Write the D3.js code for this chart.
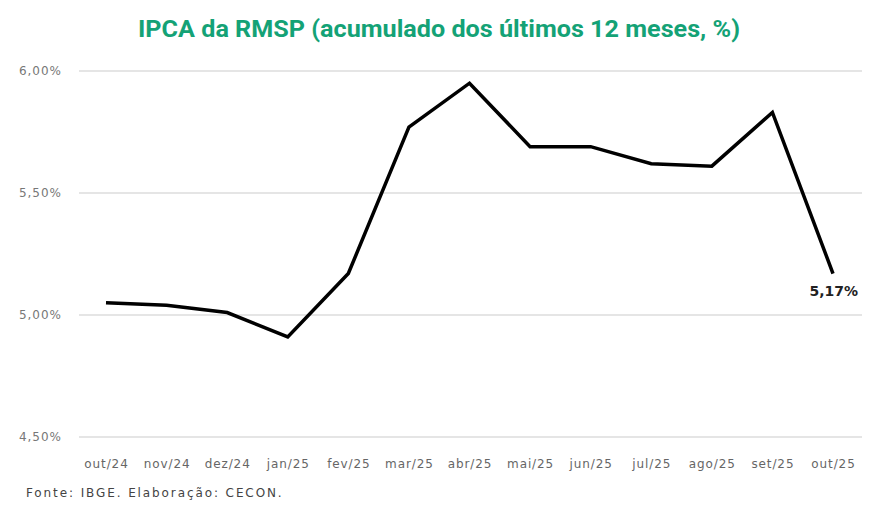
<!DOCTYPE html>
<html>
<head>
<meta charset="utf-8">
<script src="https://cdn.jsdelivr.net/npm/d3@7"></script>
<style>
  body { margin: 0; background: #fff; }
  svg { display: block; }
</style>
</head>
<body>
<div id="chart"></div>
<script>
var months = ['out/24','nov/24','dez/24','jan/25','fev/25','mar/25','abr/25','mai/25','jun/25','jul/25','ago/25','set/25','out/25'];
var ipca = [5.05, 5.04, 5.01, 4.91, 5.17, 5.77, 5.95, 5.69, 5.69, 5.62, 5.61, 5.83, 5.17];
var yTicks = [4.5, 5.0, 5.5, 6.0];
var title = 'IPCA da RMSP (acumulado dos últimos 12 meses, %)';
var source = 'Fonte: IBGE. Elaboração: CECON.';

var W = 877, H = 511;
var margin = {top: 71, right: 15, bottom: 74, left: 79};
var labelFont = '"DejaVu Sans", sans-serif';

var svg = d3.select('#chart').append('svg')
    .attr('width', W)
    .attr('height', H);

var x = d3.scalePoint().domain(months).range([106, 833]);
var y = d3.scaleLinear().domain([4.5, 6.0]).range([H - margin.bottom, margin.top]);

var fmt = function(v) { return d3.format('.2f')(v).replace('.', ',') + '%'; };

// gridlines
svg.append('g')
  .selectAll('line')
  .data(yTicks)
  .join('line')
    .attr('x1', margin.left)
    .attr('x2', W - margin.right)
    .attr('y1', function(d) { return y(d); })
    .attr('y2', function(d) { return y(d); })
    .style('stroke', '#dcdcdc')
    .style('stroke-width', '1.5px');

// y labels
svg.append('g')
  .selectAll('text')
  .data(yTicks)
  .join('text')
    .attr('x', 62)
    .attr('y', function(d) { return y(d); })
    .attr('dy', '.35em')
    .attr('text-anchor', 'end')
    .style('font-family', labelFont)
    .style('font-size', '12px')
    .style('letter-spacing', '1px')
    .style('fill', '#777')
    .text(fmt);

// x axis labels
var xAxis = svg.append('g')
  .attr('transform', 'translate(0,' + (H - margin.bottom + 22) + ')')
  .call(d3.axisBottom(x).tickSize(0).tickPadding(0));
xAxis.select('.domain').remove();
xAxis.selectAll('text')
  .style('font-family', labelFont)
  .style('font-size', '12px')
  .style('letter-spacing', '0.9px')
  .style('fill', '#666');

// line
var line = d3.line()
  .x(function(d, i) { return x(months[i]); })
  .y(function(d) { return y(d); });

svg.append('path')
  .datum(ipca)
  .attr('d', line)
  .style('fill', 'none')
  .style('stroke', '#000')
  .style('stroke-width', '3.5px')
  .style('stroke-linejoin', 'miter');

// last value label
var last = ipca.length - 1;
svg.append('text')
  .attr('x', x(months[last]) + 25)
  .attr('y', y(ipca[last]) + 22)
  .attr('text-anchor', 'end')
  .style('font-family', labelFont)
  .style('font-weight', 'bold')
  .style('font-size', '14px')
  .style('fill', '#222')
  .text(fmt(ipca[last]));

// title
svg.append('text')
  .attr('x', 439)
  .attr('y', 37)
  .attr('text-anchor', 'middle')
  .style('font-family', 'Roboto, sans-serif')
  .style('font-weight', 'bold')
  .style('font-size', '23px')
  .style('fill', '#14a276')
  .attr('textLength', 602)
  .attr('lengthAdjust', 'spacingAndGlyphs')
  .text(title);

// source
svg.append('text')
  .attr('x', 26)
  .attr('y', 497)
  .style('font-family', labelFont)
  .style('font-size', '12px')
  .style('letter-spacing', '1.9px')
  .style('fill', '#444')
  .text(source);
</script>
</body>
</html>
